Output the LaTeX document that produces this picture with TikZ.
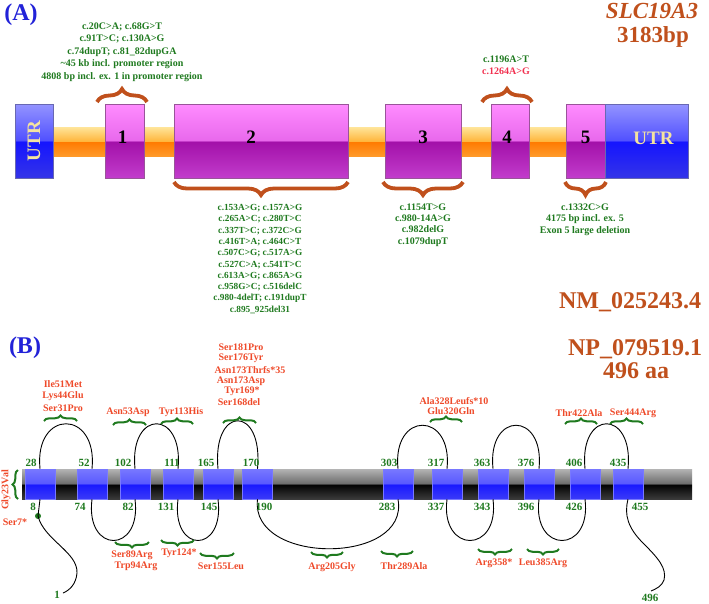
\documentclass[tikz,border=0pt]{standalone}
\usepackage{fontspec}
\setmainfont{Liberation Serif}
\usetikzlibrary{decorations.pathreplacing,calc}
\definecolor{gr}{HTML}{1F7A1F}
\definecolor{rd}{HTML}{EF4A2A}
\definecolor{br}{HTML}{C0501C}
\definecolor{bl}{HTML}{2222D8}
\definecolor{pk}{HTML}{F2304F}
\definecolor{utrtxt}{HTML}{F4E3A0}
\definecolor{exT}{HTML}{FF8CFF}\definecolor{exMT}{HTML}{E868EC}\definecolor{exMB}{HTML}{A210A8}\definecolor{exB}{HTML}{C23CCC}
\definecolor{barT}{HTML}{FFE59A}\definecolor{barMT}{HTML}{FFB53A}\definecolor{barMB}{HTML}{FF7A00}\definecolor{barB}{HTML}{FF9A2A}
\definecolor{utT}{HTML}{9494FF}\definecolor{utMT}{HTML}{5050FF}\definecolor{utMB}{HTML}{1414FF}\definecolor{utB}{HTML}{3434E8}
\definecolor{memT}{HTML}{B4B4B4}\definecolor{memMT}{HTML}{6A6A6A}\definecolor{memMB}{HTML}{000000}\definecolor{memB}{HTML}{3A3A3A}
\definecolor{hxT}{HTML}{7878FF}\definecolor{hxMT}{HTML}{5858FF}\definecolor{hxMB}{HTML}{1818FF}\definecolor{hxB}{HTML}{3A3AF8}
\newcommand\mkshade[5]{\pgfdeclareverticalshading{#1}{100bp}{color(0bp)=(#5); color(25bp)=(#5); color(49.9bp)=(#4); color(50.1bp)=(#3); color(75bp)=(#2); color(100bp)=(#2)}}
\mkshade{exsh}{exT}{exMT}{exMB}{exB}
\mkshade{barsh}{barT}{barMT}{barMB}{barB}
\mkshade{utsh}{utT}{utMT}{utMB}{utB}
\mkshade{memsh}{memT}{memMT}{memMB}{memB}
\mkshade{hxsh}{hxT}{hxMT}{hxMB}{hxB}
\begin{document}
\begin{tikzpicture}[x=1pt,y=-1pt,
  exon/.style={draw=black!40!exT, line width=0.6pt, shade, shading=exsh, minimum height=74pt, inner sep=0pt},
  utr/.style={draw=utT!70!black, line width=0.6pt, shade, shading=utsh, minimum height=74pt, inner sep=0pt},
  intron/.style={shade, shading=barsh, minimum height=29pt, inner sep=0pt},
  memb/.style={shade, shading=memsh, minimum height=30pt, inner sep=0pt},
  helix/.style={draw=hxT, line width=0.5pt, shade, shading=hxsh, minimum height=30pt, minimum width=30pt, inner sep=0pt},
  exnum/.style={font=\fontsize{19}{22}\selectfont\bfseries, inner sep=0pt},
  utrlab/.style={font=\fontsize{19}{22}\selectfont\bfseries, text=utrtxt, inner sep=0pt},
  gA/.style={font=\fontsize{10}{12.5}\selectfont\bfseries, text=gr, align=center, inner sep=0pt},
  gB/.style={font=\fontsize{9.3}{11.3}\selectfont\bfseries, text=gr, align=center, inner sep=0pt},
  gC/.style={font=\fontsize{10}{11.4}\selectfont\bfseries, text=gr, align=center, inner sep=0pt},
  big/.style={font=\fontsize{24}{28}\selectfont\bfseries, text=br, inner sep=0pt, anchor=base},
  panel/.style={font=\fontsize{24}{28}\selectfont\bfseries, text=bl, inner sep=0pt, anchor=base},
  abrace/.style={decorate, decoration={brace, amplitude=13pt}, line width=3.8pt, draw=br},
  bbrace/.style={decorate, decoration={brace, amplitude=5.5pt}, line width=2pt, draw=gr},
  nm/.style={font=\fontsize{11}{13}\selectfont\bfseries, text=gr, inner sep=0pt},
  rl/.style={font=\fontsize{10}{12}\selectfont\bfseries, text=rd, inner sep=0pt},
  loopln/.style={draw=black, line width=0.9pt}
]
\useasboundingbox (0,0) rectangle (709,603);
\fill[white] (0,0) rectangle (709,603);
% ---------------- Panel A ----------------
\node[panel] (pa) at (21,20) {(A)};
\node[big, font=\fontsize{23}{27}\selectfont\bfseries\itshape] (gene) at (652,18) {SLC19A3};
\node[big, font=\fontsize{23}{27}\selectfont\bfseries] (len) at (653,42) {3183bp};

\node[intron, minimum width=552pt] (bar) at (329,141.5) {};
\node[utr, minimum width=38pt] (u1) at (34,141) {};
\node[exon, minimum width=39pt] (e1) at (124.5,141) {};
\node[exon, minimum width=174pt] (e2) at (261,141) {};
\node[exon, minimum width=76pt] (e3) at (423,141) {};
\node[exon, minimum width=38pt] (e4) at (510,141) {};
\node[exon, minimum width=39pt] (e5) at (585.5,141) {};
\node[utr, minimum width=83pt] (u2) at (646.5,141) {};

\node[utrlab, rotate=90] at (u1.center) {UTR};
\node[utrlab] at ([xshift=7pt,yshift=3pt]u2.center) {UTR};
\node[exnum] at ([xshift=-2pt,yshift=4pt]e1.center) {1};
\node[exnum] at ([xshift=-10pt,yshift=4pt]e2.center) {2};
\node[exnum] at ([yshift=4pt]e3.center) {3};
\node[exnum] at ([xshift=-3pt,yshift=4pt]e4.center) {4};
\node[exnum] at ([yshift=4pt]e5.center) {5};

\draw[abrace] (97,102) -- (147,102);
\draw[abrace] (482,102) -- (532,102);
\draw[abrace] (348,182) -- (174,182);
\draw[abrace] (463,182) -- (383,182);
\draw[abrace] (606,182) -- (565,182);

\node[gA] (t1) at (122,52) {c.20C>A; c.68G>T\\c.91T>C; c.130A>G\\c.74dupT; c.81\_82dupGA\\\textasciitilde45 kb incl. promoter region\\4808 bp incl. ex. 1 in promoter region};
\node[gA] (t4) at (506,65.5) {c.1196A>T\\\textcolor{pk}{c.1264A>G}};
\node[gB] (t2) at (260,259) {c.153A>G; c.157A>G\\c.265A>C; c.280T>C\\c.337T>C; c.372C>G\\c.416T>A; c.464C>T\\c.507C>G; c.517A>G\\c.527C>A; c.541T>C\\c.613A>G; c.865A>G\\c.958G>C; c.516delC\\c.980-4delT; c.191dupT\\c.895\_925del31};
\node[gC] (t3) at (423,225) {c.1154T>G\\c.980-14A>G\\c.982delG\\c.1079dupT};
\node[gC] (t5) at (585,219.5) {c.1332C>G\\4175 bp incl. ex. 5\\Exon 5 large deletion};

% ---------------- Panel B ----------------
\node[panel] (pb) at (25,353) {(B)};
\node[big] (nm) at (630,308) {NM\_025243.4};
\node[big] (np) at (635,355) {NP\_079519.1};
\node[big] (aa) at (636,378) {496 aa};

\node[memb, minimum width=670pt] (mem) at (357,484) {};
\foreach \n/\x in {1/40,2/92,3/135,4/178,5/218,6/257.5,7/398,8/447,9/493,10/539,11/585,12/628}
  \node[helix] (h\n) at (\x,484) {};

% extracellular loops
\draw[loopln] (h1.north) .. controls +(-6,-60) and +(6,-60) .. (h2.north);
\draw[loopln] (h3.north) .. controls +(-6,-60) and +(6,-60) .. (h4.north);
\draw[loopln] (h5.north) .. controls +(-6,-64) and +(6,-64) .. (h6.north);
\draw[loopln] (h7.north) .. controls +(-6,-58) and +(6,-58) .. (h8.north);
\draw[loopln] (h9.north) .. controls +(-6,-58) and +(6,-58) .. (h10.north);
\draw[loopln] (h11.north) .. controls +(-6,-60) and +(6,-60) .. (h12.north);
% intracellular loops
\draw[loopln] (h2.south) .. controls +(-7,55) and +(7,55) .. (h3.south);
\draw[loopln] (h4.south) .. controls +(-7,55) and +(7,55) .. (h5.south);
\draw[loopln] (h6.south) .. controls +(-8,66) and +(12,66) .. (h7.south);
\draw[loopln] (h8.south) .. controls +(-7,55) and +(7,55) .. (h9.south);
\draw[loopln] (h10.south) .. controls +(-7,55) and +(7,55) .. (h11.south);
% termini
\node[circle, fill=gr, inner sep=0pt, minimum size=6pt] (dot) at (38,516) {};
\coordinate (nterm) at (63,593);
\coordinate (cterm) at (651,591);
\draw[loopln] (h1.south) -- (dot.center);
\draw[loopln] (dot.center) .. controls (44,540) and (78,552) .. (77,573) .. controls (76,584) and (70,590) .. (nterm);
\draw[loopln] (h12.south) .. controls (624,515) and (628,528) .. (643,543) .. controls (658,558) and (667,568) .. (664,580) .. controls (662,586) and (656,589) .. (cterm);

% position numbers
\foreach \t/\x in {28/31,52/84,102/123,111/172,165/206,170/251,303/389,317/436,363/482,376/526,406/574,435/618}
  \node[nm] at (\x,463) {\t};
\foreach \t/\x in {8/33,74/80,82/128,131/166,145/209,190/264,283/387,337/436,343/482,396/526,426/574,455/640}
  \node[nm] at (\x,507) {\t};
\node[nm] (n1) at (57,595) {1};
\node[nm] (n496) at (650,598) {496};

% braces (extracellular, tip up)
\draw[bbrace] (44,421) -- (77,421);
\draw[bbrace] (113,425) -- (146,425);
\draw[bbrace] (161,424) -- (193,424);
\draw[bbrace] (223,423) -- (256,423);
\draw[bbrace] (430,422) -- (462,422);
\draw[bbrace] (565,424) -- (597,424);
\draw[bbrace] (610,424) -- (643,424);
% braces (intracellular, tip down)
\draw[bbrace] (149,542) -- (115,542);
\draw[bbrace] (194,540) -- (161,540);
\draw[bbrace] (234,553) -- (200,553);
\draw[bbrace] (343,552) -- (311,552);
\draw[bbrace] (413,551) -- (381,551);
\draw[bbrace] (512,549) -- (478,549);
\draw[bbrace] (559,549) -- (527,549);
% vertical brace
\draw[bbrace] (18,499) -- (18,470);

% mutation labels
\node[rl] at (63,384) {Ile51Met};
\node[rl] at (63,396) {Lys44Glu};
\node[rl] at (63,408) {Ser31Pro};
\node[rl] at (128,412) {Asn53Asp};
\node[rl] at (181,412) {Tyr113His};
\node[rl] at (241,347) {Ser181Pro};
\node[rl] at (241,358) {Ser176Tyr};
\node[rl] at (250,370) {Asn173Thrfs*35};
\node[rl] at (241,381) {Asn173Asp};
\node[rl] at (242,391) {Tyr169*};
\node[rl] at (239,402) {Ser168del};
\node[rl] at (454,401) {Ala328Leufs*10};
\node[rl] at (451,411) {Glu320Gln};
\node[rl] at (579,413) {Thr422Ala};
\node[rl] at (633,413) {Ser444Arg};
\node[rl] at (132,555) {Ser89Arg};
\node[rl] at (136,566) {Trp94Arg};
\node[rl] at (179,553) {Tyr124*};
\node[rl] at (221,566) {Ser155Leu};
\node[rl] at (332,567) {Arg205Gly};
\node[rl] at (404,566) {Thr289Ala};
\node[rl] at (494,563) {Arg358*};
\node[rl] at (543,563) {Leu385Arg};
\node[rl] at (15,522) {Ser7*};
\node[rl, rotate=90] at (6,490) {Gly23Val};
\end{tikzpicture}
\end{document}
